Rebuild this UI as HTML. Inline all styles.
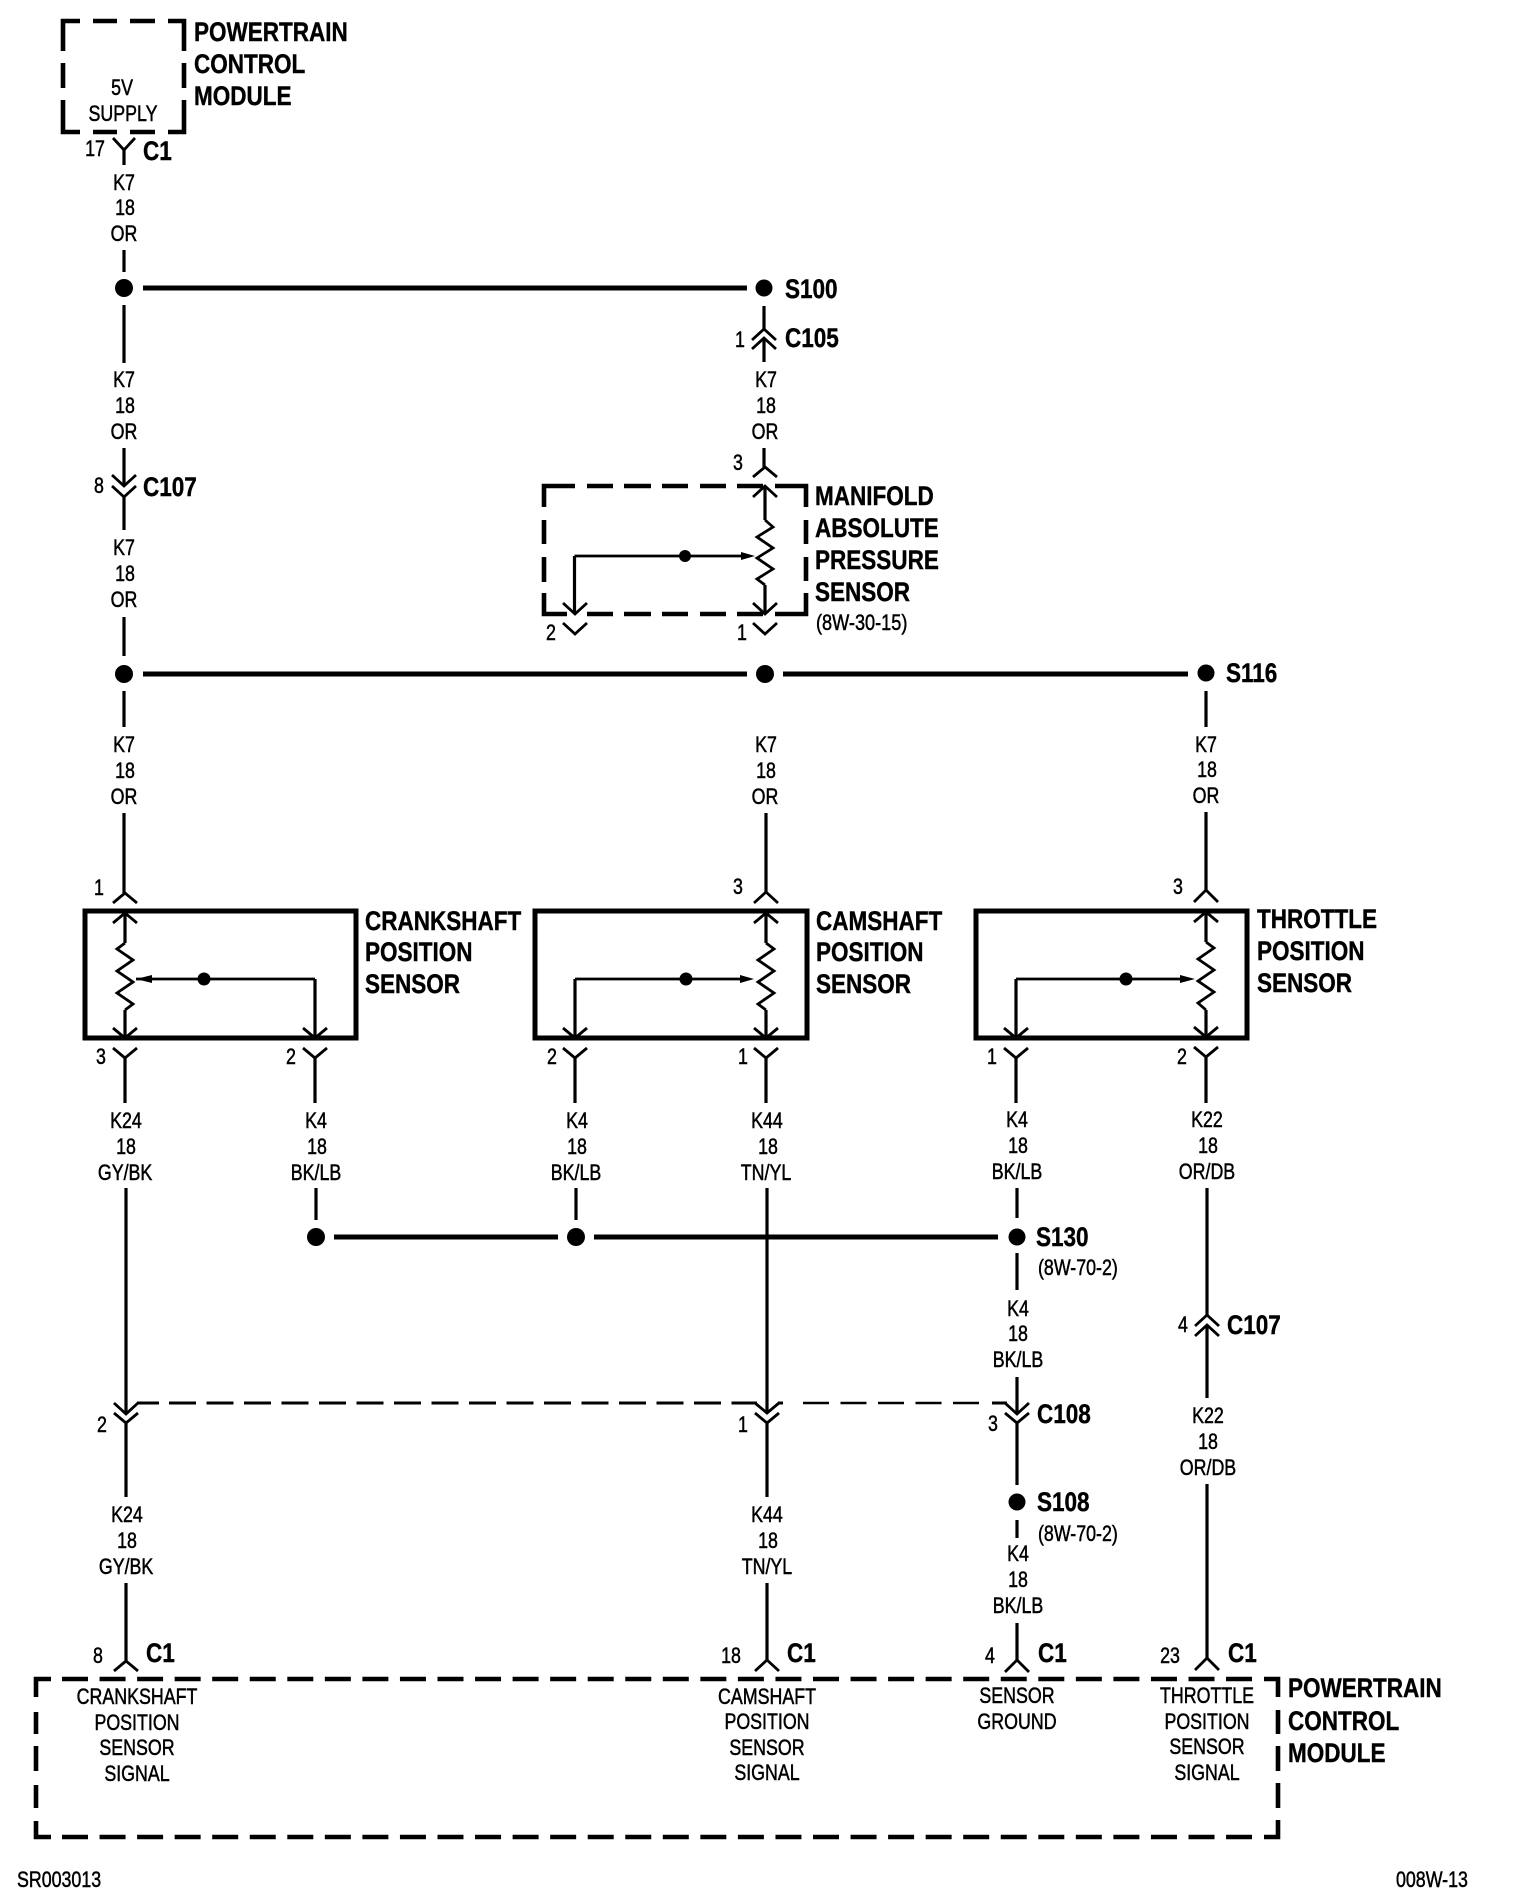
<!DOCTYPE html>
<html>
<head>
<meta charset="utf-8">
<style>
html,body{margin:0;padding:0;background:#fff;width:1520px;height:1904px;overflow:hidden}
svg{display:block}
text{fill:#000;font-family:"Liberation Sans",sans-serif}
.r{font-size:22px;stroke:#000;stroke-width:.5px;transform-box:fill-box;transform-origin:50% 50%;transform:scaleX(.81);text-anchor:middle}
.rl{font-size:22px;stroke:#000;stroke-width:.5px;transform-box:fill-box;transform-origin:0 50%;transform:scaleX(.81)}
.b{font-size:26.5px;font-weight:bold;stroke:#000;stroke-width:.4px;transform-box:fill-box;transform-origin:0 50%;transform:scaleX(.85)}
.w{fill:none;stroke:#000;stroke-width:3.2}
.c{fill:none;stroke:#000;stroke-width:2.8}
.t{fill:none;stroke:#000;stroke-width:5}
.bx{fill:none;stroke:#000;stroke-width:5}
.d{fill:none;stroke:#000;stroke-width:4.6}
</style>
</head>
<body>
<svg width="1520" height="1904" viewBox="0 0 1520 1904" xmlns="http://www.w3.org/2000/svg">
<rect width="1520" height="1904" fill="#fff"/>

<!-- dashed module boxes -->
<path class="d" d="M63 51V21H80M93 21H117M130 21H155M168 21H184V51M63 63V88M184 63V88M63 100V132H80M93 132H117M130 132H155M168 132H184V100"/>
<path class="d" d="M544 507V486H575M587 486H613M624 486H651M662 486H688M700 486H726M737 486H763M775 486H806V507M544 520V544M806 520V544M544 557V582M806 557V581M544 593V614H567M587 614H613M624 614H651M662 614H688M700 614H726M737 614H763M775 614H806V593"/>
<path class="d" d="M36 1697V1679H51M36 1712V1734M36 1746V1771M36 1785V1808M36 1821V1837H51M1264 1679H1278V1697M1278 1710V1734M1278 1746V1771M1278 1783V1808M1278 1820V1837H1264"/>
<path class="d" stroke-dasharray="26 11.55" d="M62 1679H1252M62 1837H1252"/>

<!-- solid sensor boxes -->
<rect class="bx" x="85" y="911" width="271" height="127"/>
<rect class="bx" x="535" y="911" width="272" height="127"/>
<rect class="bx" x="976" y="911" width="271" height="127"/>

<!-- thick splice lines -->
<path class="t" d="M143 288H747M143 674H747M783 674H1188M334 1237H558M594 1237H998"/>

<!-- thin dashed C108 shield -->
<path fill="none" stroke="#000" stroke-width="3" d="M137 1403H159M733 1403H757M778 1403H783M992 1403H1007"/>
<path fill="none" stroke="#000" stroke-width="3" stroke-dasharray="27 10.5" d="M169 1403H750"/>
<path fill="none" stroke="#000" stroke-width="2.6" stroke-dasharray="26 11.5" d="M803 1403H985"/>

<!-- wires -->
<path class="w" d="M124 150V165M124 250V272M124 305V363M124 448V486M124 497V530M124 617V656M124 691V727M124 813V893
M125 913V943M125 1010V1038M125 1058V1103M126 1188V1414M126 1423V1497M126 1583V1661
M764 306V329M764 338V362M764 448V467M765 486V520M765 585V614
M315 979V1038M315 1058V1103M316 1188V1220
M575 979V1038M575 1058V1103M576 1188V1220
M574.5 556V614
M766 813V892M766 913V943M766 1010V1038M766 1058V1103M767 1188V1413M767 1423V1497M767 1583V1660
M1016 979V1038M1016 1058V1103M1017 1188V1218M1017 1253V1290M1017 1377V1414M1017 1423V1485M1017 1520V1538M1017 1623V1660
M1206 691V727M1206 812V890M1206 912V942M1206 1010V1038M1206 1057V1103M1207 1188V1315M1207 1325V1398M1207 1484V1658"/>
<!-- wiper lines -->
<path class="c" d="M574.5 556H745M136 979H315M575 979H745M1016 979H1185"/>
<path d="M755 556L741 552V560ZM136 979L152 975V983ZM754 979L740 975V983ZM1195 979L1180 975V983Z" fill="#000"/>

<!-- resistors -->
<path class="c" d="M765 520L773 527L757 537L773 548L757 558L773 569L757 579L765 585"/>
<path class="c" d="M125 943L117 949L133 960L117 971L133 982L117 993L133 1004L125 1010"/>
<path class="c" d="M766 943L774 949L758 960L774 971L758 982L774 993L758 1004L766 1010"/>
<path class="c" d="M1206 942L1214 948L1198 959L1214 970L1198 981L1214 992L1198 1003L1206 1010"/>

<!-- connectors -->
<path class="c" d="M113 138L124 150L135 138
M112 475L124 486L136 475M112 486L124 497L136 486
M752 340L764 329L776 340M752 349L764 338L776 349
M753 477L765 467L777 477
M753 497L765 486L777 497M753 603L765 614L777 603
M563 603L575 614L587 603M563 623L575 634L587 623M753 623L765 634L777 623
M113 903L125 893L137 903M113 923L125 913L137 923M113 1028L125 1038L137 1028M113 1048L125 1058L137 1048
M303 1028L315 1038L327 1028M303 1048L315 1058L327 1048
M754 903L766 892L778 903M754 923L766 913L778 923M754 1028L766 1038L778 1028M754 1048L766 1058L778 1048
M563 1028L575 1038L587 1028M563 1048L575 1058L587 1048
M1194 902L1206 890L1218 902M1194 922L1206 912L1218 922M1194 1027L1206 1037L1218 1027M1194 1047L1206 1057L1218 1047
M1004 1028L1016 1038L1028 1028M1004 1048L1016 1058L1028 1048
M114 1403L126 1414L138 1403M114 1413L126 1423L138 1413
M755 1403L767 1413L779 1403M755 1413L767 1423L779 1413
M1005 1403L1017 1414L1029 1403M1005 1413L1017 1423L1029 1413
M1195 1326L1207 1315L1219 1326M1195 1336L1207 1325L1219 1336
M114 1671L126 1661L138 1671M755 1671L767 1660L779 1671M1005 1672L1017 1660L1029 1672M1195 1670L1207 1658L1219 1670"/>

<!-- splice dots -->
<g fill="#000">
<circle cx="124" cy="288" r="9"/><circle cx="764" cy="288" r="8.5"/>
<circle cx="124" cy="674" r="9"/><circle cx="765" cy="674" r="9"/><circle cx="1206" cy="673" r="8.5"/>
<circle cx="316" cy="1237" r="9"/><circle cx="576" cy="1237" r="9"/><circle cx="1017" cy="1237" r="8.5"/>
<circle cx="1017" cy="1502" r="8.5"/>
<circle cx="685" cy="556" r="6"/><circle cx="204" cy="979" r="6.5"/><circle cx="686" cy="979" r="6.5"/><circle cx="1126" cy="979" r="6.5"/>
</g>

<!-- bold labels -->
<text class="b" x="194" y="41">POWERTRAIN</text>
<text class="b" x="194" y="73">CONTROL</text>
<text class="b" x="194" y="105">MODULE</text>
<text class="b" x="143" y="160">C1</text>
<text class="b" x="143" y="496">C107</text>
<text class="b" x="785" y="298">S100</text>
<text class="b" x="785" y="347">C105</text>
<text class="b" x="815" y="505">MANIFOLD</text>
<text class="b" x="815" y="537">ABSOLUTE</text>
<text class="b" x="815" y="569">PRESSURE</text>
<text class="b" x="815" y="601">SENSOR</text>
<text class="b" x="1226" y="682">S116</text>
<text class="b" x="365" y="930">CRANKSHAFT</text>
<text class="b" x="365" y="961">POSITION</text>
<text class="b" x="365" y="993">SENSOR</text>
<text class="b" x="816" y="930">CAMSHAFT</text>
<text class="b" x="816" y="961">POSITION</text>
<text class="b" x="816" y="993">SENSOR</text>
<text class="b" x="1257" y="928">THROTTLE</text>
<text class="b" x="1257" y="960">POSITION</text>
<text class="b" x="1257" y="992">SENSOR</text>
<text class="b" x="1036" y="1246">S130</text>
<text class="b" x="1227" y="1334">C107</text>
<text class="b" x="1037" y="1423">C108</text>
<text class="b" x="1037" y="1511">S108</text>
<text class="b" x="146" y="1662">C1</text>
<text class="b" x="787" y="1662">C1</text>
<text class="b" x="1038" y="1662">C1</text>
<text class="b" x="1228" y="1662">C1</text>
<text class="b" x="1288" y="1697">POWERTRAIN</text>
<text class="b" x="1288" y="1730">CONTROL</text>
<text class="b" x="1288" y="1762">MODULE</text>

<!-- references -->
<text class="rl" x="816" y="630" style="transform:scaleX(.825)">(8W-30-15)</text>
<text class="rl" x="1038" y="1275">(8W-70-2)</text>
<text class="rl" x="1038" y="1541">(8W-70-2)</text>
<text class="rl" x="17" y="1887">SR003013</text>
<text class="rl" x="1396" y="1887">008W-13</text>

<!-- module inner text -->
<text class="r" x="122" y="95">5V</text>
<text class="r" x="123" y="121">SUPPLY</text>

<!-- pin numbers -->
<text class="r" x="95" y="156">17</text>
<text class="r" x="99" y="493">8</text>
<text class="r" x="740" y="347">1</text>
<text class="r" x="738" y="470">3</text>
<text class="r" x="551" y="640">2</text>
<text class="r" x="742" y="640">1</text>
<text class="r" x="99" y="895">1</text>
<text class="r" x="738" y="894">3</text>
<text class="r" x="1178" y="894">3</text>
<text class="r" x="101" y="1064">3</text>
<text class="r" x="291" y="1064">2</text>
<text class="r" x="552" y="1064">2</text>
<text class="r" x="743" y="1064">1</text>
<text class="r" x="992" y="1064">1</text>
<text class="r" x="1182" y="1064">2</text>
<text class="r" x="1183" y="1332">4</text>
<text class="r" x="102" y="1432">2</text>
<text class="r" x="743" y="1432">1</text>
<text class="r" x="993" y="1431">3</text>
<text class="r" x="98" y="1663">8</text>
<text class="r" x="731" y="1663">18</text>
<text class="r" x="990" y="1663">4</text>
<text class="r" x="1170" y="1663">23</text>

<!-- wire labels -->
<text class="r" x="124" y="190">K7</text><text class="r" x="125" y="215">18</text><text class="r" x="124" y="241">OR</text>
<text class="r" x="124" y="387">K7</text><text class="r" x="125" y="413">18</text><text class="r" x="124" y="439">OR</text>
<text class="r" x="124" y="555">K7</text><text class="r" x="125" y="581">18</text><text class="r" x="124" y="607">OR</text>
<text class="r" x="124" y="752">K7</text><text class="r" x="125" y="778">18</text><text class="r" x="124" y="804">OR</text>
<text class="r" x="766" y="387">K7</text><text class="r" x="766" y="413">18</text><text class="r" x="765" y="439">OR</text>
<text class="r" x="766" y="752">K7</text><text class="r" x="766" y="778">18</text><text class="r" x="765" y="804">OR</text>
<text class="r" x="1206" y="752">K7</text><text class="r" x="1207" y="777">18</text><text class="r" x="1206" y="803">OR</text>
<text class="r" x="126" y="1128">K24</text><text class="r" x="126" y="1154">18</text><text class="r" x="125" y="1180">GY/BK</text>
<text class="r" x="316" y="1128">K4</text><text class="r" x="317" y="1154">18</text><text class="r" x="316" y="1180">BK/LB</text>
<text class="r" x="577" y="1128">K4</text><text class="r" x="577" y="1154">18</text><text class="r" x="576" y="1180">BK/LB</text>
<text class="r" x="767" y="1128">K44</text><text class="r" x="768" y="1154">18</text><text class="r" x="766" y="1180">TN/YL</text>
<text class="r" x="1017" y="1127">K4</text><text class="r" x="1018" y="1153">18</text><text class="r" x="1017" y="1179">BK/LB</text>
<text class="r" x="1207" y="1127">K22</text><text class="r" x="1208" y="1153">18</text><text class="r" x="1207" y="1179">OR/DB</text>
<text class="r" x="1018" y="1316">K4</text><text class="r" x="1018" y="1341">18</text><text class="r" x="1018" y="1367">BK/LB</text>
<text class="r" x="1208" y="1423">K22</text><text class="r" x="1208" y="1449">18</text><text class="r" x="1208" y="1475">OR/DB</text>
<text class="r" x="127" y="1522">K24</text><text class="r" x="127" y="1548">18</text><text class="r" x="126" y="1574">GY/BK</text>
<text class="r" x="767" y="1522">K44</text><text class="r" x="768" y="1548">18</text><text class="r" x="767" y="1574">TN/YL</text>
<text class="r" x="1018" y="1561">K4</text><text class="r" x="1018" y="1587">18</text><text class="r" x="1018" y="1613">BK/LB</text>

<!-- bottom module text -->
<text class="r" x="137" y="1704">CRANKSHAFT</text><text class="r" x="137" y="1730">POSITION</text><text class="r" x="137" y="1755">SENSOR</text><text class="r" x="137" y="1781">SIGNAL</text>
<text class="r" x="767" y="1704">CAMSHAFT</text><text class="r" x="767" y="1729">POSITION</text><text class="r" x="767" y="1755">SENSOR</text><text class="r" x="767" y="1780">SIGNAL</text>
<text class="r" x="1017" y="1703">SENSOR</text><text class="r" x="1017" y="1729">GROUND</text>
<text class="r" x="1207" y="1703">THROTTLE</text><text class="r" x="1207" y="1729">POSITION</text><text class="r" x="1207" y="1754">SENSOR</text><text class="r" x="1207" y="1780">SIGNAL</text>
</svg>
</body>
</html>
